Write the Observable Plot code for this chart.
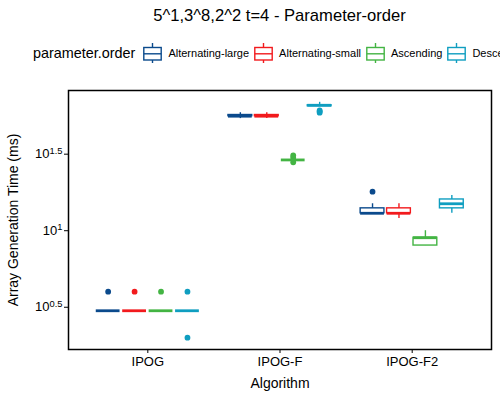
<!DOCTYPE html>
<html><head><meta charset="utf-8">
<script src="https://cdn.jsdelivr.net/npm/d3@7"></script>
<script src="https://cdn.jsdelivr.net/npm/@observablehq/plot@0.6"></script>
<style>
html,body{margin:0;padding:0;background:#fff;overflow:hidden;width:500px;height:400px;}
body{font-family:"Liberation Sans",Arial,Helvetica,sans-serif;color:#000;}
#header{position:relative;height:75px;width:500px;overflow:hidden;}
#title{position:absolute;left:0;width:559px;top:8px;text-align:center;font-size:16.6px;line-height:1;white-space:nowrap;}
#legend{position:absolute;left:33px;top:43px;height:20px;display:flex;align-items:center;white-space:nowrap;}
#legend .ltitle{font-size:14.4px;margin-right:8px;}
#legend .lab{font-size:11px;margin-left:6px;margin-right:5px;}
#legend svg{display:block;flex:none;}
#chart svg{display:block;}
</style>
</head><body>
<div id="header">
  <div id="title">5^1,3^8,2^2 t=4 - Parameter-order</div>
  <div id="legend"></div>
</div>
<div id="chart"></div>
<script>
const algorithms = ["IPOG", "IPOG-F", "IPOG-F2"];
const orders = ["Alternating-large", "Alternating-small", "Ascending", "Descending"];
const orderColors = ["#0b4a8c", "#f21a1d", "#43b443", "#0f9ec0"];
// per order: [lower whisker, Q1, median, Q3, upper whisker] in ms
const statsIPOG   = [[3, 3, 3, 3, 3], [3, 3, 3, 3, 3], [3, 3, 3, 3, 3], [3, 3, 3, 3, 3]];
const statsIPOGF  = [[54, 56, 56, 57, 59], [54, 56, 56, 57, 59], [29, 29, 29, 29, 29], [66, 65, 66, 66, 69]];
const statsIPOGF2 = [[13, 13, 13, 14, 15], [12, 13, 13, 14, 15], [8, 8, 9, 9, 10], [13, 14, 15, 16, 17]];
const outliersIPOG   = [[4], [4], [4], [2, 4]];
const outliersIPOGF  = [[], [], [28, 30, 31], [59, 60, 61]];
const outliersIPOGF2 = [[18], [], [], []];
const yTickExponents = [0.5, 1, 1.5];

const allStats = [statsIPOG, statsIPOGF, statsIPOGF2];
const allOutliers = [outliersIPOG, outliersIPOGF, outliersIPOGF2];
const dodge = 0.2, boxHalf = 0.09;
const boxes = [], points = [];
algorithms.forEach((alg, ai) => orders.forEach((ord, oi) => {
  const [lo, q1, med, q3, hi] = allStats[ai][oi];
  const pos = ai + (oi - (orders.length - 1) / 2) * dodge;
  boxes.push({alg, ord, pos, x1: pos - boxHalf, x2: pos + boxHalf, lo, q1, med, q3, hi});
  allOutliers[ai][oi].forEach(v => points.push({alg, ord, pos, v}));
}));

// legend
const legend = d3.select("#legend");
legend.append("span").attr("class", "ltitle").text("parameter.order");
orders.forEach((o, i) => {
  const c = orderColors[i];
  const s = legend.append("svg").attr("width", 19).attr("height", 20);
  s.append("line").attr("x1", 9.5).attr("x2", 9.5).attr("y1", 0).attr("y2", 20).attr("stroke", c).attr("stroke-width", 1.4);
  s.append("rect").attr("x", 0.8).attr("y", 4.5).attr("width", 17.4).attr("height", 12.5).attr("fill", "#fff").attr("stroke", c).attr("stroke-width", 1.4);
  s.append("line").attr("x1", 0.8).attr("x2", 18.2).attr("y1", 10.8).attr("y2", 10.8).attr("stroke", c).attr("stroke-width", 1.4);
  legend.append("span").attr("class", "lab").text(o);
});

const chart = Plot.plot({
  width: 500, height: 325,
  marginTop: 15, marginBottom: 51, marginLeft: 68, marginRight: 9,
  style: {fontFamily: '"Liberation Sans", Arial, Helvetica, sans-serif', fontSize: "13px", color: "#000", background: "#fff"},
  x: {domain: [-0.6, algorithms.length - 0.4], ticks: d3.range(algorithms.length), tickFormat: i => algorithms[i],
      label: "Algorithm", labelAnchor: "center", labelArrow: "none", labelOffset: 38, tickSize: 4, tickPadding: 3},
  y: {type: "log", domain: [10 ** 0.224, 10 ** 1.916], ticks: yTickExponents.map(e => 10 ** e),
      tickFormat: v => "10^" + (Math.round(Math.log10(v) * 10) / 10),
      label: "Array Generation Time (ms)", labelAnchor: "center", labelArrow: "none", labelOffset: 60, tickSize: 4, tickPadding: 2},
  color: {domain: orders, range: orderColors},
  marks: [
    Plot.ruleX(boxes, {x: "pos", y1: "lo", y2: "hi", stroke: "ord", strokeWidth: 1.4}),
    Plot.rect(boxes, {x1: "x1", x2: "x2", y1: "q1", y2: "q3", fill: "white", stroke: "ord", strokeWidth: 1.4}),
    Plot.ruleY(boxes, {x1: "x1", x2: "x2", y: "med", stroke: "ord", strokeWidth: 2.8}),
    Plot.dot(points, {x: "pos", y: "v", fill: "ord", r: 2.9}),
    Plot.frame({stroke: "#000", strokeWidth: 1.5})
  ]
});
document.getElementById("chart").appendChild(chart);

// superscript exponents on log ticks
d3.select(chart).selectAll("text").each(function () {
  const t = this.textContent;
  if (this.childElementCount === 0 && t.includes("^")) {
    const [b, e] = t.split("^");
    const s = d3.select(this);
    s.text(null);
    s.append("tspan").text(b);
    s.append("tspan").attr("dy", "-0.5em").attr("font-size", "0.72em").text(e);
  }
});
d3.select(chart).selectAll('[aria-label="x-axis label"], [aria-label="y-axis label"]').attr("font-size", "14px");
</script>
</body></html>
